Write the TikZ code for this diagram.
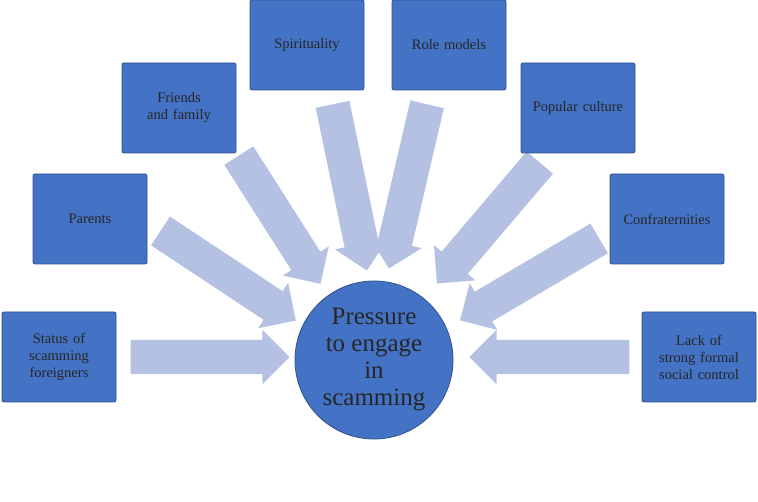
\documentclass[tikz,border=0pt]{standalone}
\usepackage{fontspec}
\setmainfont{Liberation Serif}
\usetikzlibrary{shapes.arrows,calc}
\definecolor{boxfill}{HTML}{4472C4}
\definecolor{boxline}{HTML}{2F528F}
\definecolor{arrfill}{HTML}{B4C1E2}
\tikzset{
 box/.style={draw=boxline,line width=0.8pt,fill=boxfill,rounded corners=2pt,minimum width=114pt,minimum height=90pt,text width=100pt,align=center,font=\fontsize{14.5}{17}\selectfont,text=black!85},
 barrow/.style={single arrow,fill=arrfill,draw=none,inner xsep=0pt,inner ysep=17pt,single arrow head extend=10pt,single arrow head indent=0pt}
}
\newcommand{\blockarrow}[3]{%
 \path let \p1=($(#3)-(#2)$), \n1={atan2(\y1,\x1)}, \n2={veclen(\x1,\y1)-8} in
 node[barrow,minimum height=\n2,rotate=\n1] (#1) at ($(#2)!0.5!(#3)$) {};}
\begin{document}
\begin{tikzpicture}[x=1pt,y=-1pt]
\useasboundingbox (0,0) rectangle (758,502);
\coordinate (s1) at (118,357); \coordinate (e1) at (285,357);
\coordinate (s2) at (150,224); \coordinate (e2) at (292,318);
\coordinate (s3) at (232,145); \coordinate (e3) at (318,280);
\coordinate (s4) at (330,92); \coordinate (e4) at (366,266);
\coordinate (s5) at (430,92); \coordinate (e5) at (390,264);
\coordinate (s6) at (548,153); \coordinate (e6) at (440,280);
\coordinate (s7) at (610,232); \coordinate (e7) at (464,318);
\coordinate (s8) at (642,357); \coordinate (e8) at (474,357);
\blockarrow{a1}{s1}{e1}\blockarrow{a2}{s2}{e2}\blockarrow{a3}{s3}{e3}\blockarrow{a4}{s4}{e4}
\blockarrow{a5}{s5}{e5}\blockarrow{a6}{s6}{e6}\blockarrow{a7}{s7}{e7}\blockarrow{a8}{s8}{e8}
\node[box] (b1) at (59,357) {Status of scamming foreigners};
\node[box] (b2) at (90,219) {Parents};
\node[box] (b3) at (179,108) {Friends and family};
\node[box] (b4) at (307,45) {Spirituality};
\node[box] (b5) at (449,45) {Role models};
\node[box] (b6) at (578,108) {Popular culture};
\node[box] (b7) at (667,219) {Confraternities};
\node[box] (b8) at (699,357) {Lack of strong formal social control};
\node[circle,draw=boxline,line width=0.8pt,fill=boxfill,minimum size=158pt,align=center,font=\fontsize{25}{27}\selectfont,text=black!85] (c) at (374,360) {Pressure\\to engage\\in\\scamming};
\end{tikzpicture}
\end{document}
